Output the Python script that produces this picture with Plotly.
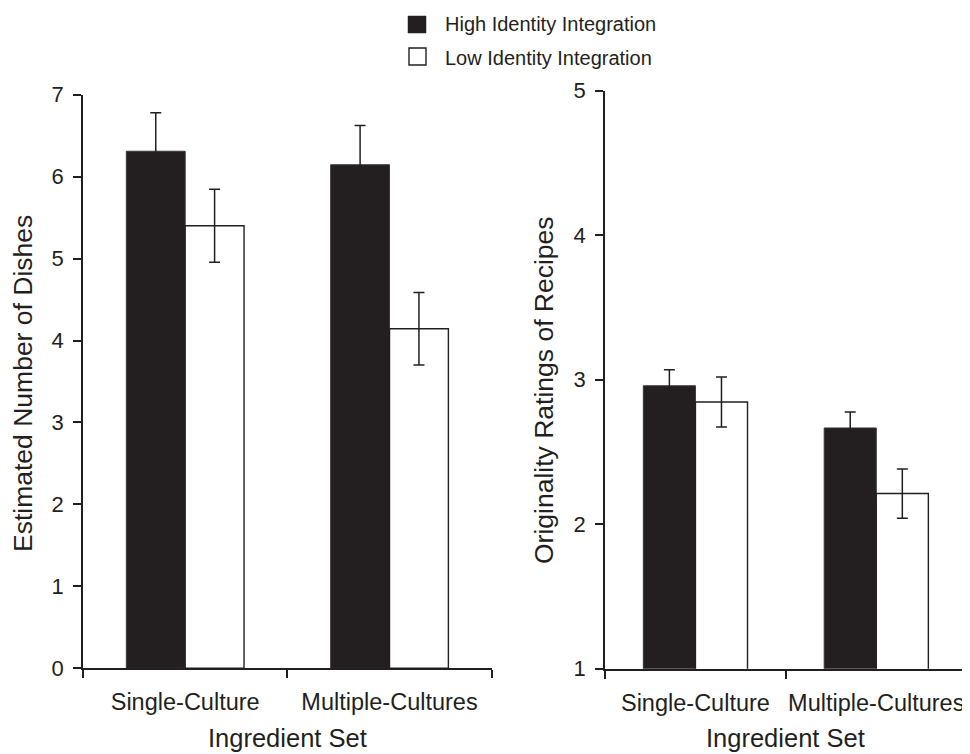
import plotly.graph_objects as go

W, H = 970, 754
OFF = 8  # page body margin offset

categories = ["Single-Culture", "Multiple-Cultures"]
series_names = ["High Identity Integration", "Low Identity Integration"]

dishes_high = [6.31, 6.145]
dishes_high_err = [0.47, 0.48]
dishes_low = [5.40, 4.143]
dishes_low_err = [0.445, 0.443]

orig_high = [2.958, 2.666]
orig_high_err = [0.11, 0.11]
orig_low = [2.846, 2.212]
orig_low_err = [0.173, 0.17]

left_ticks = [0, 1, 2, 3, 4, 5, 6, 7]
right_ticks = [1, 2, 3, 4, 5]

INK = "#231f20"
FONT = "Liberation Sans, Arial, sans-serif"


def px_x(p):
    return (p - OFF) / W


def px_y(p):
    return 1 - (p - OFF) / H


fig = go.Figure()


def add_bars(xa, ya, high, high_err, low, low_err):
    fig.add_trace(go.Bar(
        x=categories, y=high, name=series_names[0], xaxis=xa, yaxis=ya,
        marker=dict(color=INK, line=dict(color="#3a3637", width=1)),
        error_y=dict(type="data", array=high_err, visible=True, color=INK,
                     thickness=1.5, width=5.5),
        showlegend=False))
    fig.add_trace(go.Bar(
        x=categories, y=low, name=series_names[1], xaxis=xa, yaxis=ya,
        marker=dict(color="white", line=dict(color=INK, width=1.4)),
        error_y=dict(type="data", array=low_err, visible=True, color=INK,
                     thickness=1.5, width=5.5),
        showlegend=False))


add_bars("x", "y", dishes_high, dishes_high_err, dishes_low, dishes_low_err)
add_bars("x2", "y2", orig_high, orig_high_err, orig_low, orig_low_err)

ldom_x = [px_x(83), px_x(491.7)]
ldom_y = [px_y(668.3), px_y(94.7)]
rdom_x = [px_x(605), px_x(966.7)]
rdom_y = [px_y(668.7), px_y(90.7)]

xcommon = dict(type="category", range=[-0.5, 1.5], tickson="boundaries",
               ticks="outside", ticklen=8, tickwidth=1.5, tickcolor=INK,
               showline=True, linecolor=INK, linewidth=1.6, showgrid=False,
               zeroline=False, tickfont=dict(family=FONT, size=23.5, color=INK),
               tickangle=0, ticklabelstandoff=12, automargin=False, fixedrange=True)
ycommon = dict(ticks="outside", ticklen=8, tickwidth=1.5, tickcolor=INK,
               showline=True, linecolor=INK, linewidth=1.6, showgrid=False,
               zeroline=False, tickfont=dict(family=FONT, size=22, color=INK),
               ticklabelstandoff=5, automargin=False, fixedrange=True)
xin = dict(type="linear", range=[-0.5, 1.5], tickvals=[-0.5, 0.5, 1.5],
           ticks="inside", ticklen=8, tickwidth=1.5, tickcolor=INK,
           showticklabels=False, showline=False, showgrid=False,
           zeroline=False, fixedrange=True)
yin = dict(ticks="inside", ticklen=8, tickwidth=1.5, tickcolor=INK,
           showticklabels=False, showline=False, showgrid=False,
           zeroline=False, fixedrange=True)

fig.update_layout(
    width=W, height=H,
    margin=dict(l=0, r=0, t=0, b=0),
    paper_bgcolor="white", plot_bgcolor="rgba(0,0,0,0)",
    barmode="group", bargap=0.424, bargroupgap=0,
    showlegend=False,
    font=dict(family=FONT, color=INK),
    xaxis=dict(domain=ldom_x, anchor="y", **xcommon),
    yaxis=dict(domain=ldom_y, anchor="x", range=[0, 7], tickvals=left_ticks, **ycommon),
    xaxis2=dict(domain=rdom_x, anchor="y2", **xcommon),
    yaxis2=dict(domain=rdom_y, anchor="x2", range=[1, 5], tickvals=right_ticks, **ycommon),
    xaxis3=dict(overlaying="x", anchor="y", **xin),
    yaxis3=dict(overlaying="y", anchor="x", range=[0, 7], tickvals=left_ticks, **yin),
    xaxis4=dict(overlaying="x2", anchor="y2", **xin),
    yaxis4=dict(overlaying="y2", anchor="x2", range=[1, 5], tickvals=right_ticks, **yin),
)

annotations = [
    dict(text="Estimated Number of Dishes", x=px_x(23), y=px_y(384), textangle=-90,
         font=dict(size=26.5)),
    dict(text="Originality Ratings of Recipes", x=px_x(544), y=px_y(390), textangle=-90,
         font=dict(size=26.5)),
    dict(text="Ingredient Set", x=px_x(287), y=px_y(738), font=dict(size=25.5)),
    dict(text="Ingredient Set", x=px_x(785), y=px_y(738), font=dict(size=25.5)),
    dict(text=series_names[0], x=px_x(443), y=px_y(24.5), xanchor="left",
         font=dict(size=20)),
    dict(text=series_names[1], x=px_x(443), y=px_y(58), xanchor="left",
         font=dict(size=20)),
]
for a in annotations:
    a.setdefault("xanchor", "center")
    a["xref"] = "paper"
    a["yref"] = "paper"
    a["yanchor"] = "middle"
    a["showarrow"] = False
    a["font"] = dict(family=FONT, color=INK, size=a["font"]["size"])
fig.update_layout(annotations=annotations)

fig.add_shape(type="rect", xref="paper", yref="paper",
              x0=px_x(408), x1=px_x(426), y0=px_y(33), y1=px_y(16),
              fillcolor=INK, line=dict(color=INK, width=0.5))
fig.add_shape(type="rect", xref="paper", yref="paper",
              x0=px_x(409), x1=px_x(426), y0=px_y(65), y1=px_y(48),
              fillcolor="white", line=dict(color=INK, width=1.4))

fig.write_html("out.html", config={"displayModeBar": False})
